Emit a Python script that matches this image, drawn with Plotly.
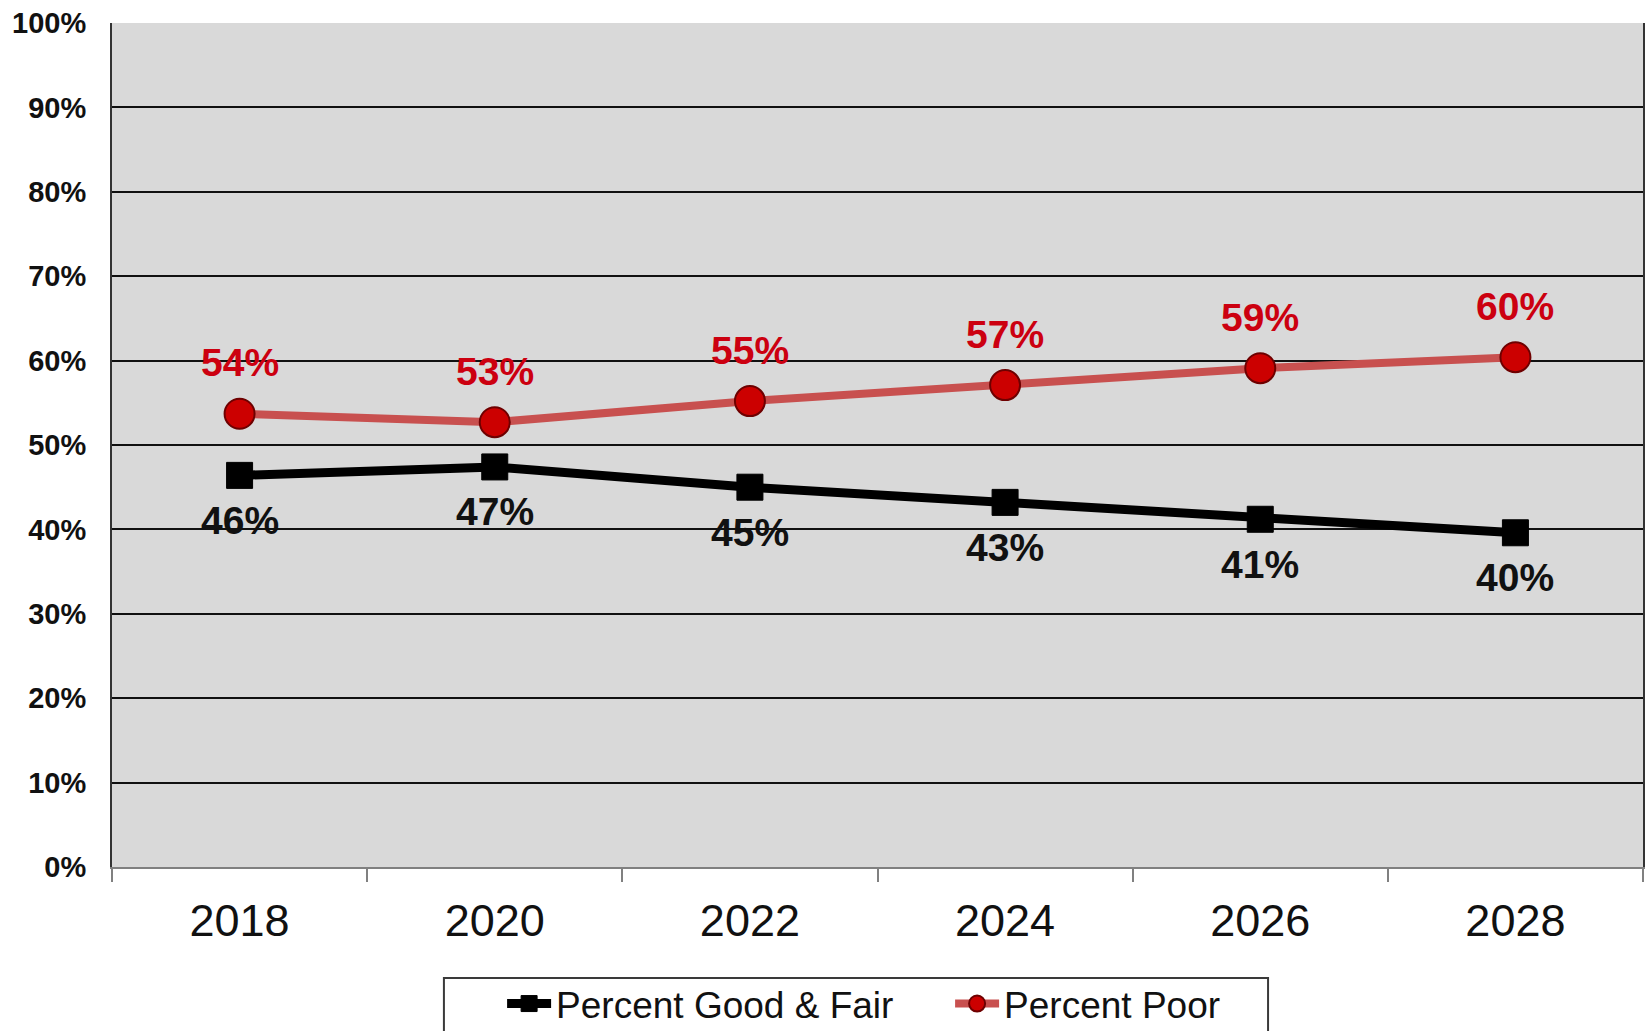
import plotly.graph_objects as go

# Pavement condition trend, share of lane miles by condition
years = [2018, 2020, 2022, 2024, 2026, 2028]
year_labels = ["2018", "2020", "2022", "2024", "2026", "2028"]
pct_good_fair = [46.4, 47.4, 45.0, 43.2, 41.2, 39.6]
pct_poor = [53.7, 52.7, 55.2, 57.1, 59.1, 60.4]
y_ticks = list(range(0, 101, 10))
y_tick_text = [f"{v}%" for v in y_ticks]

FONT = "Liberation Sans, Arial, sans-serif"
RED_TEXT = "#CC0010"

# category bands are two years wide; ticks sit on the band boundaries
band_edges = [y - 1 for y in years] + [years[-1] + 1]

fig = go.Figure()

fig.add_trace(go.Scatter(
    x=years, y=pct_good_fair, name="Percent Good & Fair",
    mode="lines+markers",
    line=dict(color="#000000", width=9),
    marker=dict(symbol="square", size=26, color="#000000",
                line=dict(color="#000000", width=1)),
))

fig.add_trace(go.Scatter(
    x=years, y=pct_poor, name="Percent Poor",
    mode="lines+markers",
    line=dict(color="#C8504F", width=8),
    marker=dict(symbol="circle", size=30, color="#CC0000",
                line=dict(color="#6E0000", width=2)),
))

# value labels: poor above the markers, good & fair below
for x, v in zip(years, pct_poor):
    fig.add_annotation(x=x, y=v, text=f"{v:.0f}%", showarrow=False, yshift=51,
                       font=dict(family=FONT, size=39, color=RED_TEXT, weight="bold"))
for x, v in zip(years, pct_good_fair):
    fig.add_annotation(x=x, y=v, text=f"{v:.0f}%", showarrow=False, yshift=-45,
                       font=dict(family=FONT, size=39, color="#111111", weight="bold"))

# legend frame (runs off the bottom edge of the page)
fig.add_shape(type="rect", xref="paper", yref="paper",
              x0=0.2168, x1=0.7551, y0=-0.21, y1=-0.1315,
              line=dict(color="#3A3A3A", width=2), fillcolor="#FFFFFF", layer="below")

fig.update_layout(
    width=1646, height=1031,
    margin=dict(l=112, r=3, t=23, b=164, autoexpand=False),
    paper_bgcolor="#FFFFFF",
    plot_bgcolor="#D9D9D9",
    font=dict(family=FONT, color="#111111"),
    showlegend=True,
    legend=dict(
        orientation="h", x=0.2548, xanchor="left", y=-0.1256, yanchor="top",
        borderwidth=0, bgcolor="rgba(0,0,0,0)",
        font=dict(family=FONT, size=37, color="#111111"),
        itemwidth=44, entrywidth=389, entrywidthmode="pixels",
    ),
)

fig.update_xaxes(
    range=[years[0] - 1, years[-1] + 1],
    tickvals=years, ticktext=year_labels,
    ticks="",
    minor=dict(tickvals=band_edges, ticks="outside", ticklen=13,
               tickwidth=2, tickcolor="#808080", showgrid=False),
    showline=True, linecolor="#808080", linewidth=2,
    showgrid=False, zeroline=False, automargin=False,
    tickfont=dict(family=FONT, size=45, color="#111111"),
    ticklabelstandoff=13,
)

fig.update_yaxes(
    range=[0, 100],
    tickvals=y_ticks, ticktext=y_tick_text,
    showgrid=True, gridcolor="#111111", gridwidth=2,
    zeroline=False, automargin=False,
    showline=True, linecolor="#333333", linewidth=2, mirror=True,
    ticks="", ticklabelstandoff=18,
    tickfont=dict(family=FONT, size=29, color="#111111", weight="bold"),
)

fig.write_html("out.html")
